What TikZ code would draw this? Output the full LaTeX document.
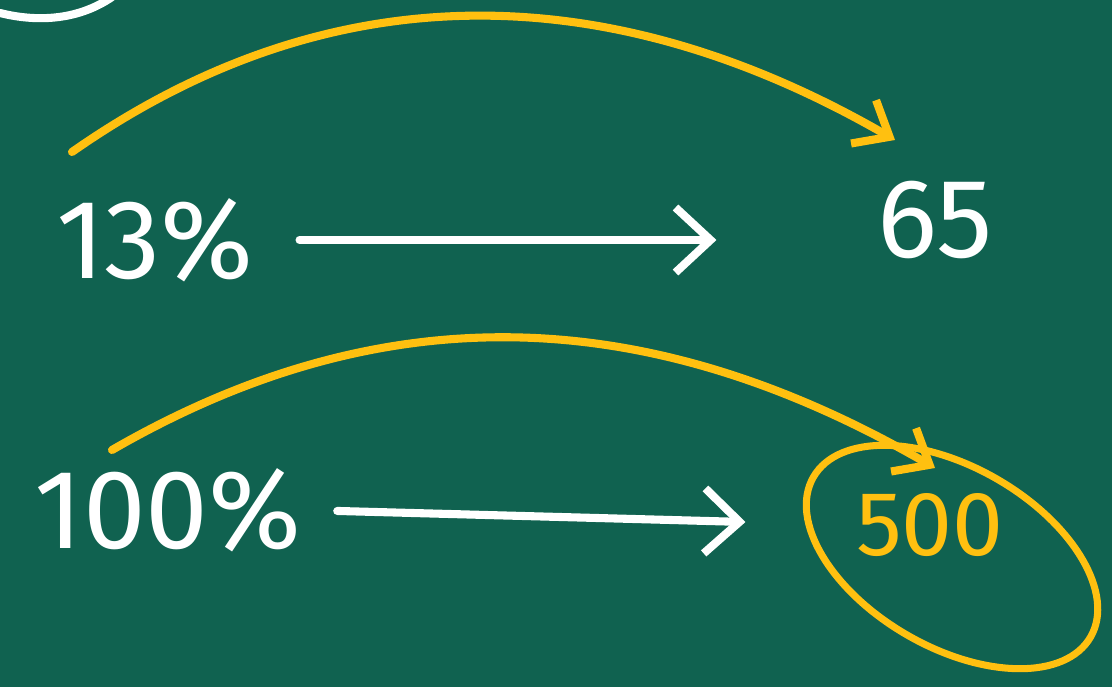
\documentclass[tikz,border=0pt]{standalone}
\usepackage{fontspec}
\setmainfont{Fira Sans}
\usetikzlibrary{arrows.meta}

\definecolor{board}{RGB}{16,98,80}
\definecolor{chalkyellow}{RGB}{255,192,16}

\tikzset{
    chalk/.style={white, line width=2.3pt, line cap=round, line join=round},
    chalkarrow/.style={chalk, -{Straight Barb[length=3.5mm, width=6.5mm, line width=2.3pt]}},
    yellowarc/.style={chalkyellow, line width=2.3pt, line cap=round,
        -{Straight Barb[length=3mm, width=5mm, line width=2.3pt]}},
    numtext/.style={text=white, font=\fontsize{32}{36}\selectfont, inner sep=0pt},
}

\begin{document}
\begin{tikzpicture}

    %----- BOARD -----
    \fill[board] (0,0) rectangle (11.12,6.87);
    \useasboundingbox (0,0) rectangle (11.12,6.87);

    %----- LEFTOVER CIRCLE AT THE TOP -----
    \draw[chalk] (0,6.74) .. controls (0.4,6.64) and (0.8,6.68) .. (1.12,6.90);

    %----- NUMBERS -----
    \node[numtext] (t13)  at (1.55,4.47) {13\%};
    \node[numtext] (t65)  at (9.35,4.67) {65};
    \node[numtext] (t100) at (1.68,1.77) {100\%};
    \node[numtext, text=chalkyellow, font=\fontsize{26}{30}\selectfont]
        (t500) at (9.30,1.62) {500};

    %----- WHITE ARROWS -----
    \draw[chalkarrow, shorten <=4.5mm, shorten >=16mm]
        (t13.east) -- (t13.east -| t65.west);
    \draw[chalkarrow, shorten <=3.5mm, shorten >=11mm]
        (t100.east) -- (t500.west);

    %----- YELLOW ARCS -----
    \coordinate (a13) at (0.72,5.35);
    \coordinate (a65) at (8.95,5.47);
    \coordinate (a100) at (1.12,2.37);
    \coordinate (a500) at (9.35,2.19);

    \draw[yellowarc] (a13) to[out=35, in=150] (a65);
    \draw[yellowarc] (a100) to[out=30, in=150] (a500);

    %----- RING ROUND 500 -----
    \coordinate (ring) at (9.52,1.30);
    \draw[chalkyellow, line width=2pt, rotate around={-30:(ring)}]
        (ring) ellipse (1.6 and 0.9);

\end{tikzpicture}
\end{document}
